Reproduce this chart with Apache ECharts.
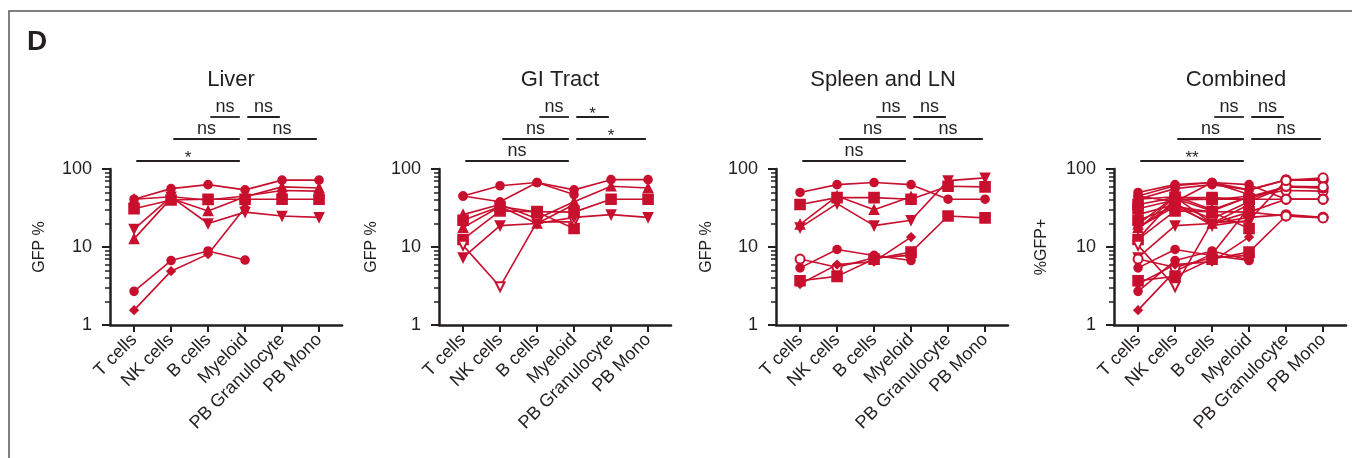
<!DOCTYPE html>
<html><head><meta charset="utf-8">
<script src="https://cdn.jsdelivr.net/npm/echarts@6/dist/echarts.min.js"></script>
<style>html,body{margin:0;padding:0;background:#fff}#c{width:1352px;height:458px}</style>
</head><body><div id="c"></div>
<script>
// ---------- data ----------
const categories = ['T cells', 'NK cells', 'B cells', 'Myeloid', 'PB Granulocyte', 'PB Mono'];
const yTickValues = [1, 10, 100];
const yMinorTickValues = [2, 3, 4, 5, 6, 7, 8, 9, 20, 30, 40, 50, 60, 70, 80, 90];
const panelTitles = ['Liver', 'GI Tract', 'Spleen and LN', 'Combined'];
const yAxisNames = ['GFP %', 'GFP %', 'GFP %', '%GFP+'];

// Liver
const liverCircleHigh = [41, 56, 63, 54, 72, 72];
const liverSquare = [31, 40, 41, 41, 41, 41];
const liverTriDown = [17, 44, 20, 28, 25, 24];
const liverTriUp = [12.7, 42, 29, 44, 59, 57];
const liverCircleMid = [41, 44, 40, 45, 53, 52];
const liverCircleLow = [2.7, 6.7, 8.9, 6.8, null, null];
const liverDiamond = [1.55, 4.9, 8.1, 32, null, null];

// GI Tract
const giCircleHigh = [45, 61, 67, 54, 73, 73];
const giCircleB = [45, 38, 67, 47, null, null];
const giTriUpA = [26, 35, 23, 38, 60, 57];
const giSquareA = [22, 33, 28, 17.3, null, null];
const giTriUpB = [17.7, 33, 20, 35, null, null];
const giSquareB = [12.5, 29, 28.4, 28, 41, 41];
const giOpenTriDown = [10.5, 3.1, 21, 21, null, null];
const giTriDown = [7.3, 18.8, 20, 24, 26, 24];

// Spleen and LN
const spCircleHigh = [50, 63, 67, 63, 41, 41];
const spSquareHigh = [35, 43, 43, 41, 60, 59];
const spTriUp = [19.5, 45, 30, 44, null, null];
const spTriDown = [17.7, 36, 18.8, 22, 71, 77];
const spOpenCircle = [7.0, 5.5, 7.3, 7.8, null, null];
const spCircleLow = [5.4, 9.3, 7.8, 6.7, null, null];
const spSquareLow = [3.7, 4.2, 7.0, 8.6, 25, 23.6];
const spDiamond = [3.35, 5.95, 6.5, 13.4, null, null];

// significance brackets: [fromCategory, toCategory, row, label]
const liverBrackets = [[0, 3, 0, '*'], [1, 3, 1, 'ns'], [3, 5, 1, 'ns'], [2, 3, 2, 'ns'], [3, 4, 2, 'ns']];
const giBrackets = [[0, 3, 0, 'ns'], [1, 3, 1, 'ns'], [3, 5, 1, '*'], [2, 3, 2, 'ns'], [3, 4, 2, '*']];
const spleenBrackets = [[0, 3, 0, 'ns'], [1, 3, 1, 'ns'], [3, 5, 1, 'ns'], [2, 3, 2, 'ns'], [3, 4, 2, 'ns']];
const combinedBrackets = [[0, 3, 0, '**'], [1, 3, 1, 'ns'], [3, 5, 1, 'ns'], [2, 3, 2, 'ns'], [3, 4, 2, 'ns']];

// ---------- styling / layout ----------
const RED = '#c8102e';
const INK = '#231f20';
const FONT = '"Liberation Sans", Arial, Helvetica, sans-serif';
const SYM = {
  circle: {symbol: 'circle', symbolSize: 8, symbolRotate: 0},
  square: {symbol: 'rect', symbolSize: 10, symbolRotate: 0},
  triUp: {symbol: 'triangle', symbolSize: 9, symbolRotate: 0},
  triDown: {symbol: 'triangle', symbolSize: 9, symbolRotate: 180},
  openTriDown: {symbol: 'emptyTriangle', symbolSize: 9, symbolRotate: 180},
  openCircle: {symbol: 'emptyCircle', symbolSize: 9, symbolRotate: 0},
  diamond: {symbol: 'diamond', symbolSize: 8, symbolRotate: 0}
};
const panels = [
  [[liverCircleHigh, 'circle'], [liverSquare, 'square'], [liverTriDown, 'triDown'], [liverTriUp, 'triUp'],
   [liverCircleMid, 'triUp'], [liverCircleLow, 'circle'], [liverDiamond, 'diamond']],
  [[giCircleHigh, 'circle'], [giCircleB, 'circle'], [giTriUpA, 'triUp'], [giSquareA, 'square'],
   [giTriUpB, 'triUp'], [giSquareB, 'square'], [giOpenTriDown, 'openTriDown'], [giTriDown, 'triDown']],
  [[spCircleHigh, 'circle'], [spSquareHigh, 'square'], [spTriUp, 'triUp'], [spTriDown, 'triDown'],
   [spOpenCircle, 'openCircle'], [spCircleLow, 'circle'], [spSquareLow, 'square'], [spDiamond, 'diamond']]
];
panels.push([].concat(panels[0], panels[1], panels[2]));
const brackets = [liverBrackets, giBrackets, spleenBrackets, combinedBrackets];

const gridLefts = [110, 439, 776, 1114];
const GRID_W = 232, GRID_TOP = 169, GRID_H = 156;
const titleCenters = [226, 555, 878, 1231];
const nameGaps = [62, 59, 61, 64];
const rowOffsets = [8, 30, 52];

const grid = [], xAxis = [], yAxis = [], series = [], title = [];
for (let i = 0; i < 4; i++) {
  grid.push({left: gridLefts[i], top: GRID_TOP, width: GRID_W, height: GRID_H, containLabel: false});
  title.push({text: panelTitles[i], left: titleCenters[i], textAlign: 'center', top: 64,
    textStyle: {fontFamily: FONT, fontSize: 22, fontWeight: 'normal', color: INK}});
  xAxis.push({
    type: 'value', gridIndex: i, min: -0.65, max: 5.62,
    axisLine: {onZero: false, lineStyle: {color: INK, width: 2.5}},
    axisTick: {customValues: [0, 1, 2, 3, 4, 5], length: 7, lineStyle: {color: INK, width: 2}},
    axisLabel: {customValues: [0, 1, 2, 3, 4, 5], formatter: v => categories[Math.round(v)] || '',
      rotate: 45, margin: 12, fontFamily: FONT, fontSize: 18, color: INK},
    splitLine: {show: false}
  });
  yAxis.push({
    type: 'log', logBase: 10, gridIndex: i, min: 1, max: 100, position: 'left',
    name: yAxisNames[i], nameLocation: 'middle', nameGap: nameGaps[i], nameRotate: 90,
    nameTextStyle: {fontFamily: FONT, fontSize: 16, color: INK},
    axisLine: {show: true, onZero: false, lineStyle: {color: INK, width: 2.5}},
    axisTick: {show: true, customValues: yTickValues, length: 8, lineStyle: {color: INK, width: 2}},
    axisLabel: {customValues: yTickValues, margin: 18, fontFamily: FONT, fontSize: 18, color: INK},
    splitLine: {show: false}
  });
  yAxis.push({
    type: 'log', logBase: 10, gridIndex: i, min: 1, max: 100, position: 'left', offset: 0,
    axisLine: {show: false, onZero: false},
    axisTick: {show: true, customValues: yMinorTickValues, length: 5, lineStyle: {color: INK, width: 1.5}},
    axisLabel: {show: false},
    splitLine: {show: false}
  });

  const combined = i === 3;
  panels[i].forEach(([vals, shape]) => {
    const s = SYM[shape];
    const data = [];
    vals.forEach((v, k) => {
      if (v == null) return;
      if (combined && k >= 4) data.push({value: [k, v], symbol: 'emptyCircle', symbolSize: 9, symbolRotate: 0});
      else data.push([k, v]);
    });
    series.push({
      type: 'line', xAxisIndex: i, yAxisIndex: i * 2, data: data,
      symbol: s.symbol, symbolSize: s.symbolSize, symbolRotate: s.symbolRotate,
      lineStyle: {color: RED, width: 1.6}, itemStyle: {color: RED, borderColor: RED, borderWidth: 1.6},
      showAllSymbol: true, silent: true
    });
  });

  const br = brackets[i];
  series.push({
    type: 'custom', xAxisIndex: i, yAxisIndex: i * 2, silent: true, clip: false,
    data: br.map(b => [b[0], b[1], 100]),
    encode: {x: [0, 1], y: 2},
    renderItem: (params, api) => {
      const b = br[params.dataIndex];
      const top = api.coord([0, 100])[1];
      const x0 = api.coord([b[0] + 0.06, 100])[0];
      const x1 = api.coord([b[1] - (b[1] === 3 ? 0.14 : 0.06), 100])[0];
      const y = top - rowOffsets[b[2]];
      const star = b[3].indexOf('*') === 0;
      return {
        type: 'group', children: [
          {type: 'line', shape: {x1: x0, y1: y, x2: x1, y2: y}, style: {stroke: INK, lineWidth: 1.8}},
          {type: 'text', x: (x0 + x1) / 2, y: star ? y + 6 : y - 1,
            style: {text: b[3], fontFamily: FONT, fontSize: star ? 17 : 18, fill: INK, align: 'center', verticalAlign: 'bottom'}}
        ]
      };
    }
  });
}

const chart = echarts.init(document.getElementById('c'), null, {renderer: 'canvas'});
chart.setOption({
  animation: false,
  backgroundColor: '#fff',
  title: title,
  grid: grid, xAxis: xAxis, yAxis: yAxis, series: series,
  graphic: [
    {type: 'polyline', shape: {points: [[9, 458], [9, 11], [1352, 11]]}, style: {stroke: '#555', lineWidth: 1.5, fill: null}},
    {type: 'text', x: 27, y: 28, style: {text: 'D', fontFamily: FONT, fontWeight: 'bold', fontSize: 28, fill: INK}}
  ]
});
</script></body></html>
